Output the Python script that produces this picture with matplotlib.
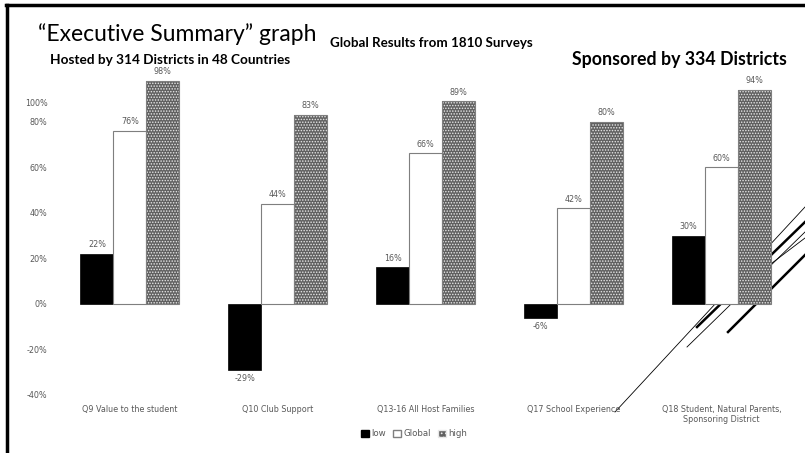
import matplotlib
matplotlib.use("Agg")
import matplotlib.pyplot as plt
import matplotlib.transforms as mtransforms
from matplotlib.lines import Line2D
from matplotlib.patches import Patch
import numpy as np

# =============================================================================
# data

categories = ["Q9 Value to the student", "Q10 Club Support",
              "Q13-16 All Host Families", "Q17 School Experience",
              "Q18 Student, Natural Parents,\nSponsoring District"]
low = [22, -29, 16, -6, 30]
global_res = [76, 44, 66, 42, 60]
high = [98, 83, 89, 80, 94]
series_names = ["low", "Global", "high"]
y_ticks = [-40, -20, 0, 20, 40, 60, 80, 100]

# =============================================================================

W, H = 805, 453
GRAY = "#595959"
TICKFONT = "DejaVu Sans"
TITLEFONT = "Lato"
SMALL = 5.8
CHECK_FACE = "#606060"

plt.rcParams["hatch.linewidth"] = 0.7


def px(x, y):
    """pixel (from top-left) to figure fraction"""
    return x / W, 1 - y / H


fig = plt.figure(figsize=(W / 100, H / 100), dpi=100)
ax = fig.add_axes([56 / W, 1 - 395 / H, (795.5 - 56) / W, (395 - 76) / H])
ax.set_facecolor("none")
ax.set_zorder(1)

x = np.arange(len(categories))
bw = 0.223
b1 = ax.bar(x - bw, low, bw, color="black", edgecolor="black", lw=0.5)
b2 = ax.bar(x, global_res, bw, color="white", edgecolor="#7f7f7f", lw=0.8)
# checkered fill: dark grey with white dots, then a grey outline on top
ax.bar(x + bw, high, bw, color=CHECK_FACE, edgecolor="#e8e8e8", lw=0,
       hatch="......")
b3 = ax.bar(x + bw, high, bw, fill=False, edgecolor="#7f7f7f", lw=0.8)

for bars, vals in [(b1, low), (b2, global_res), (b3, high)]:
    for b, v in zip(bars, vals):
        cx = b.get_x() + b.get_width() / 2
        off = 9 if v >= 0 else -9
        ax.annotate("%d%%" % v, (cx, v), xytext=(0, off),
                    textcoords="offset pixels", ha="center", va="center",
                    fontsize=SMALL, color=GRAY, family=TICKFONT)

ax.set_xlim(-0.5, len(categories) - 0.5)
ax.set_ylim(-40, 100)
ax.set_yticks(y_ticks)
ax.set_yticklabels(["%d%%" % t for t in y_ticks])
ax.set_xticks(x)
ax.set_xticklabels(categories, va="top")
ax.tick_params(length=0, labelsize=SMALL, labelcolor=GRAY, pad=6)
ax.tick_params(axis="x", pad=7)
for lab in ax.get_xticklabels() + ax.get_yticklabels():
    lab.set_family(TICKFONT)
# the 100% label sits lower in the original
top_lab = ax.get_yticklabels()[-1]
top_lab.set_transform(top_lab.get_transform() +
                      mtransforms.ScaledTranslation(0, -0.27, fig.dpi_scale_trans))
for s in ax.spines.values():
    s.set_visible(False)

handles = [Patch(facecolor="black", edgecolor="black"),
           Patch(facecolor="white", edgecolor="#7f7f7f"),
           Patch(facecolor=CHECK_FACE, edgecolor="#e8e8e8", hatch="....")]
fig.legend(handles, series_names, loc="center", bbox_to_anchor=px(414, 434),
           ncol=3, frameon=False, handlelength=0.9,
           handleheight=0.9, handletextpad=0.25, columnspacing=0.9,
           labelcolor=GRAY, prop={"family": TICKFONT, "size": 6.2})

# titles
fig.text(*px(38, 34), "\u201cExecutive Summary\u201d graph", fontsize=16.5,
         family=TITLEFONT, va="center", ha="left")
fig.text(*px(50, 60), "Hosted by 314 Districts in 48 Countries", fontsize=9.8,
         family=TITLEFONT, weight="bold", va="center", ha="left")
fig.text(*px(330, 43), "Global Results from 1810 Surveys", fontsize=9.6,
         family=TITLEFONT, weight="bold", va="center", ha="left")
fig.text(*px(787, 60), "Sponsored by 334 Districts", fontsize=12.8,
         family=TITLEFONT, weight="bold", va="center", ha="right")

# frame lines
fig.add_artist(Line2D([7 / W, 7 / W], [0, 1 - 5 / H], color="black", lw=2.5))
fig.add_artist(Line2D([6 / W, 1], [1 - 5 / H, 1 - 5 / H], color="black", lw=2.5))

# decorative diagonal strokes behind the bars
strokes = [((615, 412), (805, 207), 0.6),
           ((697, 327), (805, 222), 1.8),
           ((687, 347), (805, 232), 0.6),
           ((755, 276), (805, 238), 0.6),
           ((728, 332), (805, 255), 1.8)]
for (x0, y0), (x1, y1), lw in strokes:
    ln = Line2D([x0 / W, x1 / W], [1 - y0 / H, 1 - y1 / H], color="black",
                lw=lw, zorder=0)
    fig.add_artist(ln)

fig.savefig("out.png", dpi=100)
